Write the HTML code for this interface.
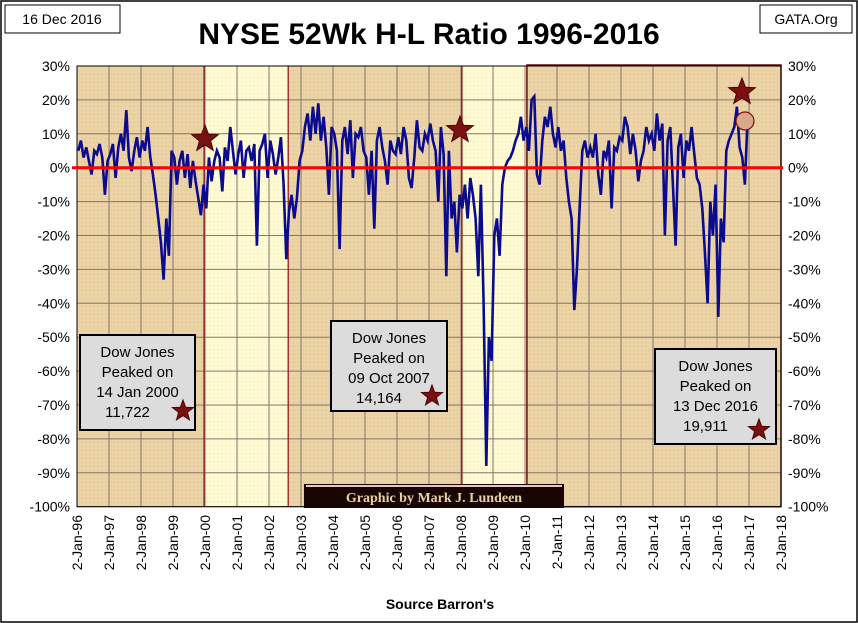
<!DOCTYPE html>
<html><head><meta charset="utf-8"><style>
body{margin:0;background:#fff;}
svg{display:block;font-family:"Liberation Sans",sans-serif;}
</style></head><body>
<svg id="chart" width="858" height="623" viewBox="0 0 858 623">
<defs>
<pattern id="dots" width="4" height="4" patternUnits="userSpaceOnUse"><rect width="4" height="4" fill="#ecd3a6"/><rect x="1" y="2" width="1" height="1" fill="#dcc094"/></pattern>
<pattern id="ydots" width="4" height="4" patternUnits="userSpaceOnUse"><rect width="4" height="4" fill="#fefbd2"/><rect x="2" y="1" width="1" height="1" fill="#eee6b8"/></pattern>
</defs>
<rect x="1" y="1" width="856" height="621" fill="#fff" stroke="#000" stroke-width="1.5"/>
<g id="bg"></g>
<g id="grid"></g>
<g id="series"></g>
<g id="axes"></g>
<rect x="5" y="5" width="115" height="28" fill="#fff" stroke="#000"/>
<text x="62" y="24" font-size="14" text-anchor="middle">16 Dec 2016</text>
<rect x="760" y="5" width="92" height="28" fill="#fff" stroke="#000"/>
<text x="806" y="24" font-size="14" text-anchor="middle">GATA.Org</text>
<text x="429" y="44" font-size="30" font-weight="bold" text-anchor="middle">NYSE 52Wk H-L Ratio 1996-2016</text>
<text x="440" y="609" font-size="14" font-weight="bold" text-anchor="middle">Source Barron's</text>
<g id="banner">
<rect x="304" y="484" width="260" height="24" fill="#1a0505"/>
<rect x="306" y="485" width="256" height="2" fill="#e8c8c8"/>
<text x="434" y="502" font-size="14" font-weight="bold" fill="#e8d3a0" text-anchor="middle" font-family="Liberation Serif,serif">Graphic by Mark J. Lundeen</text>
</g>
</svg>
<script>
const years=["96","97","98","99","00","01","02","03","04","05","06","07","08","09","10","11","12","13","14","15","16","17","18"];
const yTicks=[30,20,10,0,-10,-20,-30,-40,-50,-60,-70,-80,-90,-100];
const ratio=[
5,8,3,6,2,-2,5,4,7,3,-8,2,
4,7,-3,6,10,5,17,3,-1,5,9,3,
8,5,12,3,-2,-8,-15,-22,-33,-15,-26,5,
3,-5,2,5,-3,4,-6,2,-4,-9,-14,-5,
-12,3,-4,2,5,3,-7,6,2,12,5,-2,
4,8,-3,5,6,2,7,-23,5,7,10,-3,
8,4,-2,3,9,-5,-27,-13,-8,-15,-9,2,
5,12,16,8,18,10,19,8,15,6,-8,12,
10,5,-24,8,12,4,14,-3,10,9,12,5,
3,-8,5,-18,8,12,6,2,-5,8,5,4,
9,4,12,8,-3,-6,3,14,6,5,10,8,
13,8,5,-10,12,4,-32,5,-15,-10,-25,-8,
-12,-5,-15,-3,-8,-15,-32,-5,-40,-88,-50,-57,
-20,-15,-26,-5,0,2,3,5,8,10,15,8,
12,5,20,21,-2,-5,8,15,12,18,10,6,
12,5,8,-3,-10,-15,-42,-30,-12,5,8,3,
6,3,10,-2,-8,5,3,8,-12,6,5,9,
8,15,12,4,10,5,-4,2,5,12,8,10,
5,16,8,13,-20,8,12,-5,-23,6,10,-3,
8,5,12,4,-3,-5,-12,-25,-40,-10,-20,-5,
-44,-15,-22,5,8,10,12,18,6,3,-5,15];
const NS="http://www.w3.org/2000/svg";
const X0=77,YW=32,Y30=66,PX10=33.9;
function xs(t){return X0+(t-1996)*YW;}
function ys(v){return Y30+(30-v)/10*PX10;}
function mk(tag,attrs,parent){const e=document.createElementNS(NS,tag);for(const k in attrs)e.setAttribute(k,attrs[k]);parent.appendChild(e);return e;}
const bg=document.getElementById('bg'),grid=document.getElementById('grid'),ser=document.getElementById('series'),ax=document.getElementById('axes');
const pTop=ys(30),pBot=ys(-100);
let r=mk('rect',{x:X0,y:pTop,width:xs(2018)-X0,height:pBot-pTop,fill:'url(#dots)'},bg);


const yb=[[1999.97,2002.6],[2008.03,2010.06]];
yb.forEach(b=>{let e=mk('rect',{x:xs(b[0]),y:pTop,width:xs(b[1])-xs(b[0]),height:pBot-pTop,fill:'url(#ydots)'},bg);

});
for(let i=0;i<=22;i++){let e=mk('line',{x1:xs(1996+i),x2:xs(1996+i),y1:pTop,y2:pBot,stroke:'#857670','stroke-width':1},grid);

}
yTicks.forEach(v=>{let e=mk('line',{x1:X0,x2:xs(2018),y1:ys(v),y2:ys(v),stroke:'#857670','stroke-width':1},grid);


let l=mk('text',{x:70,y:ys(v)+5,'font-size':14,'text-anchor':'end'},ax);l.textContent=v+'%';


let rr=mk('text',{x:788,y:ys(v)+5,'font-size':14},ax);rr.textContent=v+'%';

});
[yb[0][0],yb[0][1],yb[1][0]].forEach(t=>{let e=mk('line',{x1:xs(t),x2:xs(t),y1:pTop,y2:pBot,stroke:'#8b1010','stroke-width':1.2},grid);

});
let br=mk('rect',{x:xs(yb[1][1]),y:pTop-1,width:xs(2018)-xs(yb[1][1]),height:pBot-pTop+1,fill:'none',stroke:'#6a0a0a','stroke-width':1.5},grid);


let fr=mk('rect',{x:X0,y:pTop,width:xs(2018)-X0,height:pBot-pTop,fill:'none',stroke:'#000','stroke-width':1},grid);


let pts=ratio.map((v,i)=>xs(1996+i/12+0.04).toFixed(1)+','+ys(v).toFixed(1)).join(' ');
let pl=mk('polyline',{points:pts,fill:'none',stroke:'#0b0b8f','stroke-width':2.6,'stroke-linejoin':'miter'},ser);


let z=mk('line',{x1:X0-5,x2:xs(2018)+2,y1:ys(0),y2:ys(0),stroke:'#ff0000','stroke-width':3},ser);


years.forEach((y,i)=>{let x=xs(1996+i)+5;let t=mk('text',{x:0,y:0,'font-size':14,'text-anchor':'end',transform:`translate(${x},515) rotate(-90)`},ax);t.textContent='2-Jan-'+y;

});
function star(cx,cy,R){let p=[];for(let i=0;i<10;i++){let rr=i%2?R*0.42:R;let a=-Math.PI/2+i*Math.PI/5;p.push((cx+rr*Math.cos(a)).toFixed(1)+','+(cy+rr*Math.sin(a)).toFixed(1));}
let s=mk('polygon',{points:p.join(' '),fill:'#7a1010',stroke:'#4a0505','stroke-width':1},ser);

}
let c=mk('circle',{cx:745,cy:121,r:9,fill:'#d9a88a',stroke:'#7a1010','stroke-width':1.2},ser);


star(205,139,14);star(460,130,14);star(742,92,14);
const boxes=[[80,335,115,95,'14 Jan 2000','11,722',183,411],[331,321,116,90,'09 Oct 2007','14,164',432,396],[655,349,121,95,'13 Dec 2016','19,911',759,430]];
boxes.forEach(b=>{let g=mk('g',{},ser);


mk('rect',{x:b[0],y:b[1],width:b[2],height:b[3],fill:'#dcdcdc',stroke:'#000','stroke-width':2},g);
const lines=['Dow Jones','Peaked on',b[4],b[5]];
lines.forEach((s,i)=>{let t=mk('text',{x:b[0]+b[2]/2-(i==3?10:0),y:b[1]+22+i*20,'font-size':15,'text-anchor':'middle'},g);t.textContent=s;});
star(b[6],b[7],11);});
</script>
</body></html>
